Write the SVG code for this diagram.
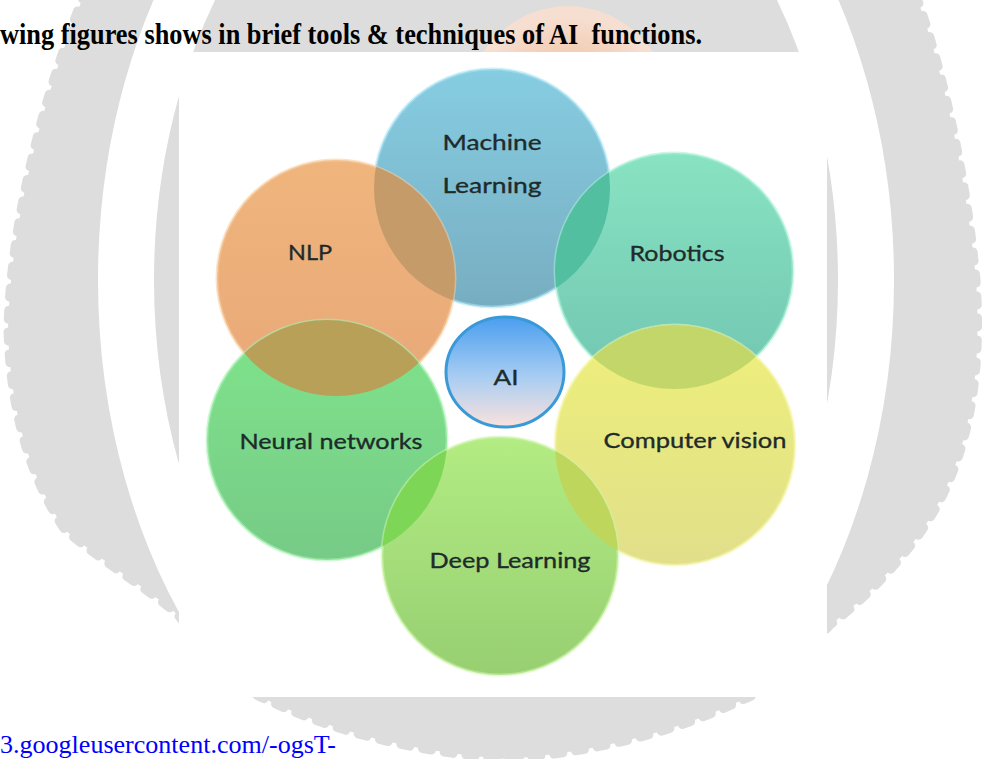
<svg xmlns="http://www.w3.org/2000/svg" width="984" height="759" viewBox="0 0 984 759">
<style>
.lbl{font-family:Lato,"Open Sans","Liberation Sans",sans-serif;font-size:22px;fill:#1e2b2b;stroke:#1e2b2b;stroke-width:0.35px;text-anchor:middle}
.rim{stroke-width:3;stroke-opacity:0.55}
</style>
<defs>
<linearGradient id="gML" x1="0" y1="0" x2="0" y2="1"><stop offset="0" stop-color="#86cde2"/><stop offset="1" stop-color="#78adc1"/></linearGradient>
<linearGradient id="gNLP" x1="0" y1="0" x2="0" y2="1"><stop offset="0" stop-color="#f0b57d"/><stop offset="1" stop-color="#e8a878"/></linearGradient>
<linearGradient id="gROB" x1="0" y1="0" x2="0" y2="1"><stop offset="0" stop-color="#88e3c2"/><stop offset="1" stop-color="#71c5b0"/></linearGradient>
<linearGradient id="gNN" x1="0" y1="0" x2="0" y2="1"><stop offset="0" stop-color="#80e48c"/><stop offset="1" stop-color="#76cb86"/></linearGradient>
<linearGradient id="gCV" x1="0" y1="0" x2="0" y2="1"><stop offset="0" stop-color="#eef07a"/><stop offset="1" stop-color="#e1df8a"/></linearGradient>
<linearGradient id="gDL" x1="0" y1="0" x2="0" y2="1"><stop offset="0" stop-color="#b2ec82"/><stop offset="1" stop-color="#97cf72"/></linearGradient>
<linearGradient id="gAI" x1="0" y1="0" x2="0" y2="1"><stop offset="0" stop-color="#4a9ef0"/><stop offset="0.55" stop-color="#a9cdf2"/><stop offset="1" stop-color="#fae2dc"/></linearGradient>
<radialGradient id="gOr" cx="0.5" cy="0.55" r="0.5"><stop offset="0" stop-color="#f0b590"/><stop offset="0.6" stop-color="#f3c9ad"/><stop offset="1" stop-color="#f6ded0"/></radialGradient>
<clipPath id="cML"><ellipse cx="492" cy="188" rx="118" ry="119"/></clipPath>
<clipPath id="cNLP"><ellipse cx="336" cy="278" rx="119" ry="118"/></clipPath>
<clipPath id="cROB"><ellipse cx="674" cy="271" rx="119" ry="118"/></clipPath>
<clipPath id="cNN"><ellipse cx="327" cy="440" rx="120" ry="120"/></clipPath>
<clipPath id="cCV"><ellipse cx="675" cy="445" rx="120" ry="120"/></clipPath>
<clipPath id="cTop"><rect x="0" y="-20" width="984" height="712"/></clipPath>
</defs>

<rect width="984" height="759" fill="#ffffff"/>

<g id="watermark">
  <path id="seal" d="M90,-20 L910,-20 C935,40 965,160 976,280 C984,400 960,480 915,540 C880,585 850,610 830,625 C800,660 770,690 742,700 C680,730 600,752 507,759 C410,752 330,730 267,700 C240,690 205,650 178,615 C150,590 100,560 65,530 C25,470 10,400 8,330 C10,230 40,100 90,-20 Z" fill="#dddddd" stroke="#dddddd" stroke-width="9" stroke-dasharray="9 13" stroke-linecap="round"/>
  <ellipse cx="496" cy="280" rx="370" ry="520" fill="none" stroke="#ffffff" stroke-width="56" clip-path="url(#cTop)"/>
  <ellipse cx="568" cy="118" rx="105" ry="112" fill="url(#gOr)"/>
</g>

<text x="0" y="44" xml:space="preserve" textLength="702" lengthAdjust="spacingAndGlyphs" style="font-family:'Liberation Serif','Times New Roman',serif;font-weight:bold;font-size:29px;fill:#000">wing figures shows in brief tools &amp; techniques of AI  functions.</text>

<rect id="panel" x="179" y="52" width="648" height="645" fill="#ffffff"/>

<g id="node-ml"><ellipse cx="492" cy="188" rx="118" ry="119" fill="url(#gML)" stroke="#a8e4f2" class="rim"/></g>
<g id="node-nlp"><ellipse cx="336" cy="278" rx="119" ry="118" fill="url(#gNLP)" stroke="#f6cc9c" class="rim"/></g>
<g id="node-robotics"><ellipse cx="674" cy="271" rx="119" ry="118" fill="url(#gROB)" stroke="#a6f0d6" class="rim"/></g>
<g id="node-nn"><ellipse cx="327" cy="440" rx="120" ry="120" fill="url(#gNN)" stroke="#a6f0ae" class="rim"/></g>
<g id="node-cv"><ellipse cx="675" cy="445" rx="120" ry="120" fill="url(#gCV)" stroke="#f4f6a8" class="rim"/></g>
<g id="node-dl"><ellipse cx="500" cy="556" rx="118" ry="119" fill="url(#gDL)" stroke="#cdf4aa" class="rim"/></g>

<g id="overlaps">
  <ellipse cx="336" cy="278" rx="119" ry="118" fill="#c49b69" clip-path="url(#cML)"/>
  <ellipse cx="674" cy="271" rx="119" ry="118" fill="#52bfa0" clip-path="url(#cML)"/>
  <ellipse cx="327" cy="440" rx="120" ry="120" fill="#b8a058" clip-path="url(#cNLP)"/>
  <ellipse cx="675" cy="445" rx="120" ry="120" fill="#c3d66a" clip-path="url(#cROB)"/>
  <ellipse cx="500" cy="556" rx="118" ry="119" fill="#7dd655" clip-path="url(#cNN)"/>
  <ellipse cx="500" cy="556" rx="118" ry="119" fill="#bfd65c" clip-path="url(#cCV)"/>
</g>

<g id="node-ai">
  <ellipse cx="505" cy="372" rx="63" ry="59" fill="#ffffff"/>
  <ellipse cx="505" cy="372" rx="59" ry="55" fill="url(#gAI)" stroke="#3a9ad8" stroke-width="3"/>
  <text class="lbl" x="506" y="385" textLength="25" lengthAdjust="spacingAndGlyphs">AI</text>
</g>

<g id="labels">
  <text class="lbl" x="492" y="150" textLength="99" lengthAdjust="spacingAndGlyphs">Machine</text>
  <text class="lbl" x="492" y="193" textLength="99" lengthAdjust="spacingAndGlyphs">Learning</text>
  <text class="lbl" x="310" y="260" textLength="44" lengthAdjust="spacingAndGlyphs">NLP</text>
  <text class="lbl" x="677" y="261" textLength="95" lengthAdjust="spacingAndGlyphs">Robotics</text>
  <text class="lbl" x="331" y="449" textLength="183" lengthAdjust="spacingAndGlyphs">Neural networks</text>
  <text class="lbl" x="695" y="448" textLength="183" lengthAdjust="spacingAndGlyphs">Computer vision</text>
  <text class="lbl" x="510" y="568" textLength="161" lengthAdjust="spacingAndGlyphs">Deep Learning</text>
</g>

<g id="connectors"/>

<text x="0" y="753" textLength="336" lengthAdjust="spacingAndGlyphs" style="font-family:'Liberation Serif','Times New Roman',serif;font-size:26px;fill:#0000ff">3.googleusercontent.com/-ogsT-</text>
</svg>
